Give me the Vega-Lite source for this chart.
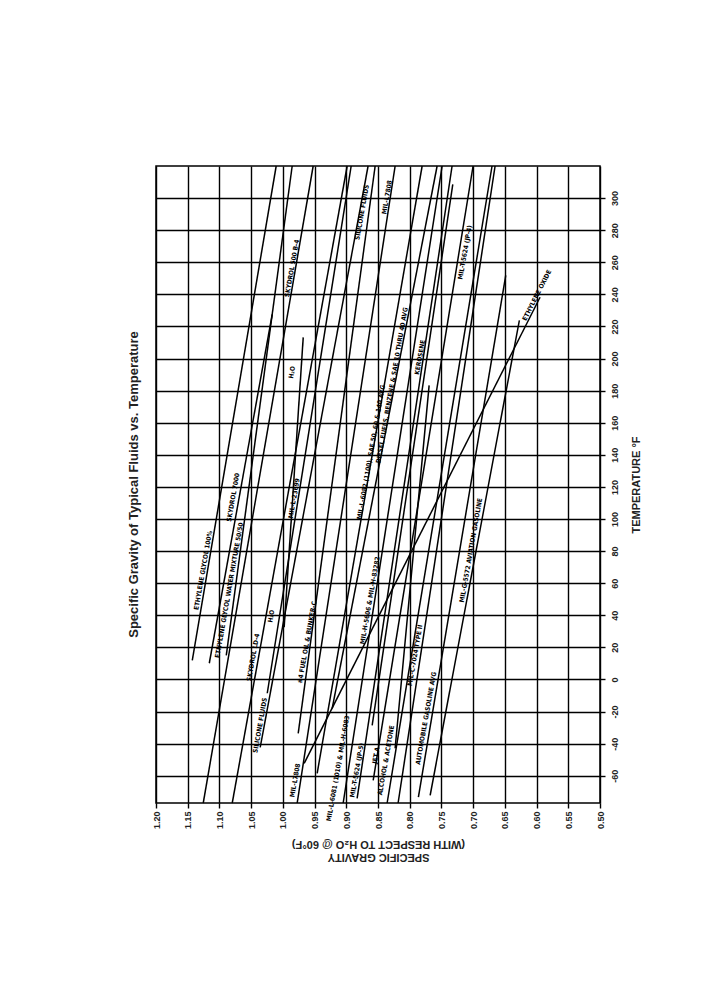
{
  "$schema": "https://vega.github.io/schema/vega-lite/v6.json",
  "width": 444,
  "height": 637,
  "autosize": {"type": "none"},
  "padding": {"left": 156, "top": 166, "right": 127, "bottom": 197},
  "background": "white",
  "title": {"text": "Specific Gravity of Typical Fluids vs. Temperature", "orient": "left", "anchor": "middle", "fontSize": 13, "font": "Liberation Sans", "fontWeight": "bold", "offset": 11, "color": "#222"},
  "config": {"view": {"stroke": "black", "strokeWidth": 1.5}},
  "datasets": {
    "lines": [
      {"id": "EG100", "sg": 1.1428, "t": 11.9}, {"id": "EG100", "sg": 1.0105, "t": 320},
      {"id": "EG50", "sg": 1.116, "t": 10.1}, {"id": "EG50", "sg": 1.0168, "t": 227.6},
      {"id": "SK7000", "sg": 1.0892, "t": 15}, {"id": "SK7000", "sg": 0.9853, "t": 320},
      {"id": "SK500", "sg": 1.1255, "t": -77}, {"id": "SK500", "sg": 0.9522, "t": 320},
      {"id": "LD4", "sg": 1.0798, "t": -77}, {"id": "LD4", "sg": 0.8986, "t": 320},
      {"id": "SIL", "sg": 1.0357, "t": -42.3}, {"id": "SIL", "sg": 0.8656, "t": 320},
      {"id": "M23699", "sg": 1.0246, "t": -8.6}, {"id": "M23699", "sg": 0.8923, "t": 320},
      {"id": "H2O", "sg": 0.9979, "t": 32.5}, {"id": "H2O", "sg": 0.9679, "t": 213.2},
      {"id": "FUEL4", "sg": 0.9758, "t": -33.6}, {"id": "FUEL4", "sg": 0.8545, "t": 320},
      {"id": "M7808", "sg": 0.9774, "t": -77}, {"id": "M7808", "sg": 0.823, "t": 320},
      {"id": "EOX", "sg": 0.9664, "t": -52.3}, {"id": "EOX", "sg": 0.5945, "t": 238.2},
      {"id": "M6081", "sg": 0.9459, "t": -58.5}, {"id": "M6081", "sg": 0.7804, "t": 320},
      {"id": "M6082", "sg": 0.9222, "t": -18}, {"id": "M6082", "sg": 0.7568, "t": 320},
      {"id": "DIESEL", "sg": 0.9049, "t": -77}, {"id": "DIESEL", "sg": 0.7489, "t": 320},
      {"id": "JP5", "sg": 0.8829, "t": -74.1}, {"id": "JP5", "sg": 0.7332, "t": 320},
      {"id": "M5606", "sg": 0.8592, "t": -28.6}, {"id": "M5606", "sg": 0.7321, "t": 308.6},
      {"id": "JETA", "sg": 0.8576, "t": -62.9}, {"id": "JETA", "sg": 0.7001, "t": 320},
      {"id": "JP4", "sg": 0.8356, "t": -77}, {"id": "JP4", "sg": 0.6702, "t": 320},
      {"id": "ALC", "sg": 0.823, "t": -42.9}, {"id": "ALC", "sg": 0.7694, "t": 183.3},
      {"id": "M7024", "sg": 0.8183, "t": -77}, {"id": "M7024", "sg": 0.6654, "t": 320},
      {"id": "AUTO", "sg": 0.7863, "t": -73.3}, {"id": "AUTO", "sg": 0.6486, "t": 251.9},
      {"id": "AVGAS", "sg": 0.7678, "t": -72.2}, {"id": "AVGAS", "sg": 0.6271, "t": 223.8}
    ],
    "labels": [
      {"label": "ETHYLENE GLYCOL 100%", "sg": 1.1255, "t": 68},
      {"label": "ETHYLENE GLYCOL WATER MIXTURE 50/50", "sg": 1.0845, "t": 55.6},
      {"label": "SKYDROL 7000", "sg": 1.0782, "t": 113.5},
      {"label": "SKYDROL LD-4", "sg": 1.0467, "t": 13.8},
      {"label": "SILICONE FLUIDS", "sg": 1.0357, "t": -28.6},
      {"label": "H₂O", "sg": 1.0183, "t": 39.4},
      {"label": "H₂O", "sg": 0.9853, "t": 191.4},
      {"label": "MIL-L-23699", "sg": 0.9821, "t": 112.9},
      {"label": "#4 FUEL OIL & BUNKER-C", "sg": 0.9616, "t": 23.2},
      {"label": "SKYDROL 500 B-4", "sg": 0.9853, "t": 256.2},
      {"label": "MIL-L7808", "sg": 0.9805, "t": -62.9},
      {"label": "MIL-L-6081 (1010) & MIL-H-6083", "sg": 0.9128, "t": -55.4},
      {"label": "MIL-T-5624 (JP-5)", "sg": 0.8829, "t": -56.6},
      {"label": "MIL-L-6082 (1100), SAE 50, 60 & 140 AVG", "sg": 0.8608, "t": 141.6},
      {"label": "MIL-H-5606 & MIL-H-83282", "sg": 0.8624, "t": 49.3},
      {"label": "JET A", "sg": 0.8529, "t": -47.3},
      {"label": "ALCOHOL & ACETONE", "sg": 0.8372, "t": -50.4},
      {"label": "DIESEL FUELS, BENZENE & SAE 10 THRU 40 AVG", "sg": 0.8277, "t": 183.3},
      {"label": "SILICONE FLUIDS", "sg": 0.875, "t": 291.1},
      {"label": "MIL-L7808", "sg": 0.8356, "t": 300.5},
      {"label": "KEROSENE", "sg": 0.7836, "t": 200.8},
      {"label": "MIL-C-7024 TYPE II", "sg": 0.7915, "t": 15},
      {"label": "AUTOMOBILE GASOLINE AVG", "sg": 0.7741, "t": -24.2},
      {"label": "MIL-G-5572 AVIATION GASOLINE", "sg": 0.7033, "t": 80.5},
      {"label": "MIL-T-5624 (JP-4)", "sg": 0.7127, "t": 266.2}
    ],
    "oxide": [
      {"label": "ETHYLENE OXIDE", "sg": 0.5993, "t": 239.4}
    ]
  },
  "encoding": {
    "x": {
      "field": "sg", "type": "quantitative",
      "scale": {"domain": [0.5, 1.2], "reverse": true, "nice": false, "zero": false},
      "axis": {
        "orient": "bottom",
        "values": [0.5, 0.55, 0.6, 0.65, 0.7, 0.75, 0.8, 0.85, 0.9, 0.95, 1.0, 1.05, 1.1, 1.15, 1.2],
        "format": ".2f",
        "labelAngle": -90, "labelAlign": "right", "labelBaseline": "middle",
        "labelFont": "Liberation Sans", "labelFontWeight": "bold", "labelFontSize": 9, "labelColor": "#222",
        "labelPadding": 3, "labelFlush": false, "labelOverlap": false,
        "tickSize": 5, "tickColor": "black", "tickWidth": 1.4,
        "grid": true, "gridColor": "black", "gridWidth": 1.4, "gridOpacity": 1,
        "domain": false,
        "title": ["SPECIFIC GRAVITY", "(WITH RESPECT TO H₂O @ 60°F)"],
        "titleAngle": 180, "titleFont": "Liberation Sans", "titleFontSize": 11, "titleFontWeight": "bold", "titleColor": "#222",
        "titlePadding": 34
      }
    },
    "y": {
      "field": "t", "type": "quantitative",
      "scale": {"domain": [-77, 320], "nice": false, "zero": false},
      "axis": {
        "orient": "right",
        "values": [-60, -40, -20, 0, 20, 40, 60, 80, 100, 120, 140, 160, 180, 200, 220, 240, 260, 280, 300],
        "labelExpr": "'' + datum.value",
        "labelAngle": -90, "labelAlign": "center", "labelBaseline": "top",
        "labelFont": "Liberation Sans", "labelFontWeight": "bold", "labelFontSize": 9, "labelColor": "#222",
        "labelPadding": 5, "labelFlush": false, "labelOverlap": false,
        "tickSize": 5, "tickColor": "black", "tickWidth": 1.4,
        "grid": true, "gridColor": "black", "gridWidth": 1.4, "gridOpacity": 1,
        "domain": false,
        "title": "TEMPERATURE °F",
        "titleAngle": 270, "titleFont": "Liberation Sans", "titleFontSize": 11, "titleFontWeight": "bold", "titleColor": "#222",
        "titlePadding": 22
      }
    }
  },
  "layer": [
    {
      "data": {"name": "lines"},
      "mark": {"type": "line", "color": "black", "strokeWidth": 1.5},
      "encoding": {"detail": {"field": "id", "type": "nominal"}, "order": {"field": "t", "type": "quantitative"}}
    },
    {
      "data": {"name": "labels"},
      "mark": {"type": "text", "angle": 280, "font": "DejaVu Sans Condensed", "fontWeight": "bold", "fontSize": 6.5, "color": "black"},
      "encoding": {"text": {"field": "label", "type": "nominal"}}
    },
    {
      "data": {"name": "oxide"},
      "mark": {"type": "text", "angle": 297, "font": "DejaVu Sans Condensed", "fontWeight": "bold", "fontSize": 6.5, "color": "black"},
      "encoding": {"text": {"field": "label", "type": "nominal"}}
    }
  ]
}
